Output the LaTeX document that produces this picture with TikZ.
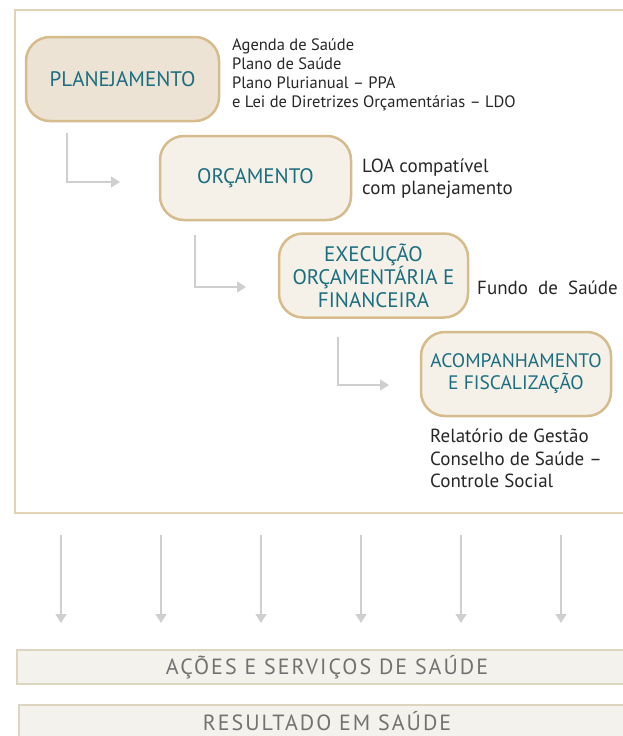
\documentclass[tikz,border=0pt]{standalone}
\usepackage{fontspec}
\setmainfont{PT Sans}
\usetikzlibrary{arrows.meta}
\definecolor{tan}{HTML}{D6BC8C}
\definecolor{frameline}{HTML}{E2D3B5}
\definecolor{darkfill}{HTML}{ECE3D4}
\definecolor{lightfill}{HTML}{F5F1E8}
\definecolor{teal}{HTML}{1B6E80}
\definecolor{arrowgray}{HTML}{CFCFCF}
\definecolor{barline}{HTML}{DDD5BF}
\definecolor{barfill}{HTML}{F4F2EC}
\definecolor{bartext}{HTML}{727272}

\begin{document}
\begin{tikzpicture}[x=1pt,y=-1pt]
\useasboundingbox (0,0) rectangle (623,736);

% moldura
\draw[frameline, line width=1.5pt] (623,10) -- (15,10) -- (15,513) -- (623,513);

\begin{scope}[every node/.style={rounded corners=24pt,draw=tan,line width=2.5pt,
              text=teal,font=\fontsize{21}{23}\selectfont,align=center,
              minimum height=84pt,inner sep=2pt}]
    \node[fill=darkfill,minimum width=193pt] (plan) at (122.5,79) {PLANEJAMENTO};
    \node[fill=lightfill,minimum width=191pt] (orc) at (255.5,178) {ORÇAMENTO};
    \node[fill=lightfill,minimum width=189pt] (exec) at (373.5,275.5) {EXECUÇÃO\\ORÇAMENTÁRIA E\\FINANCEIRA};
    \node[fill=lightfill,minimum width=190pt,font=\fontsize{19.5}{22}\selectfont] (acomp) at (516,374) {ACOMPANHAMENTO\\E FISCALIZAÇÃO};
\end{scope}

\begin{scope}[every node/.style={align=left,inner sep=0pt,text=black!85}]
    \node[anchor=west,font=\fontsize{16.5}{19}\selectfont] (agenda) at (232,75)
        {Agenda de Saúde\\Plano de Saúde\\Plano Plurianual -- PPA\\e Lei de Diretrizes Orçamentárias -- LDO};
    \node[anchor=west,font=\fontsize{19}{22}\selectfont] (loa) at (362,179)
        {LOA compatível\\com planejamento};
    \node[anchor=west,font=\fontsize{19}{22}\selectfont] (fundo) at (477,288) {Fundo\ \ de\ \ Saúde};
    \node[anchor=north west,font=\fontsize{19}{22.5}\selectfont] (relat) at (430,429)
        {Relatório de Gestão\\Conselho de Saúde --\\Controle Social};
\end{scope}

% setas entre as etapas
\coordinate (s1) at (67,133);  \coordinate (e1) at (120,182);
\coordinate (s2) at (195,235); \coordinate (e2) at (246,287);
\coordinate (s3) at (338,337); \coordinate (e3) at (389,385);
\begin{scope}[>={Triangle[length=9pt,width=11pt]},arrowgray,line width=1.3pt]
    \draw[->] (s1) |- (e1);
    \draw[->] (s2) |- (e2);
    \draw[->] (s3) |- (e3);
    \foreach \x in {61,161,261,361,461,561}
        \draw[->] (\x,535) -- (\x,623);
\end{scope}

% barras de baixo
\begin{scope}[every node/.style={text=bartext,font=\fontsize{22}{24}\selectfont\addfontfeature{LetterSpace=9}}]
    \draw[barline,fill=barfill,line width=2pt] (17,650) rectangle (640,684);
    \node (acoes) at (327,667) {AÇÕES E SERVIÇOS DE SAÚDE};
    \draw[barline,fill=barfill,line width=2pt] (19,705) rectangle (640,745);
    \node (result) at (327,721) {RESULTADO EM SAÚDE};
\end{scope}
\end{tikzpicture}
\end{document}
